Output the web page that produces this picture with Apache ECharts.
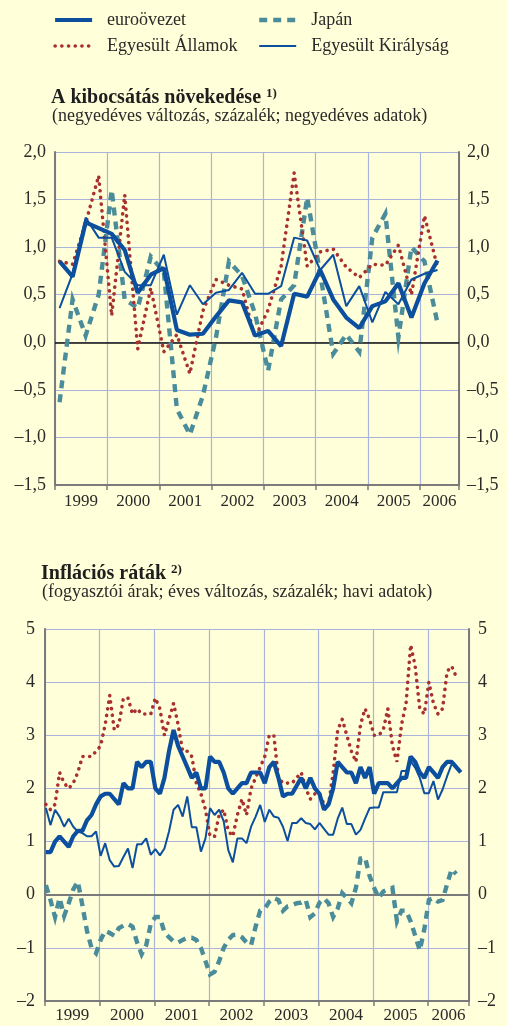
<!DOCTYPE html>
<html><head><meta charset="utf-8">
<script src="https://cdn.jsdelivr.net/npm/echarts@6/dist/echarts.min.js"></script>
<style>html,body{margin:0;padding:0;background:#FFFFD9;}#c{width:507px;height:1026px;}</style>
</head><body><div id="c"></div>
<script>
// ---- data ----
const years = ['1999','2000','2001','2002','2003','2004','2005','2006'];
const seriesNames = ['euroövezet','Egyesült Államok','Japán','Egyesült Királyság'];
const gdpTicks = [-1.5,-1.0,-0.5,0,0.5,1.0,1.5,2.0];
const cpiTicks = [-2,-1,0,1,2,3,4,5];
// quarterly, 1999 Q1 - 2006 Q2
const gdpEuro = [0.85,0.69,1.26,1.2,1.14,0.97,0.52,0.71,0.78,0.13,0.08,0.09,0.27,0.44,0.42,0.07,0.12,-0.04,0.51,0.48,0.76,0.45,0.26,0.15,0.38,0.43,0.62,0.26,0.62,0.86];
const gdpUS = [0.85,0.82,1.25,1.75,0.28,1.55,-0.07,0.57,-0.1,0.08,-0.33,0.33,0.66,0.6,0.56,0.05,0.34,0.8,1.78,0.8,0.95,0.98,0.79,0.68,0.82,0.81,1.02,0.5,1.33,0.79];
const gdpJapan = [-0.63,0.45,0.07,0.5,1.6,0.45,0.36,0.9,0.74,-0.7,-0.97,-0.56,0.05,0.85,0.7,0.3,-0.3,0.45,0.6,1.52,0.72,-0.12,0.08,-0.1,1.1,1.35,0.05,1.0,0.85,0.2];
const gdpUK = [0.36,0.72,1.31,1.1,1.1,0.74,0.6,0.6,0.92,0.29,0.6,0.4,0.52,0.55,0.73,0.51,0.51,0.59,1.1,1.07,0.76,0.92,0.38,0.59,0.21,0.53,0.4,0.66,0.72,0.76];
// monthly, from January 1999
const cpiEuro = [0.8,0.8,1.0,1.1,1.0,0.9,1.1,1.2,1.2,1.4,1.5,1.7,
 1.85,1.9,1.9,1.8,1.7,2.1,2.0,2.0,2.5,2.4,2.5,2.5,
 2.0,1.9,2.2,2.7,3.1,2.8,2.6,2.4,2.2,2.3,2.0,2.0,
 2.6,2.5,2.5,2.3,2.0,1.9,2.0,2.1,2.1,2.3,2.3,2.3,
 2.1,2.4,2.5,2.2,1.85,1.9,1.9,2.05,2.2,2.0,2.2,2.0,
 1.9,1.6,1.7,2.0,2.5,2.4,2.3,2.3,2.1,2.4,2.2,2.4,
 1.9,2.1,2.1,2.1,2.0,2.1,2.2,2.2,2.6,2.5,2.3,2.2,
 2.4,2.3,2.2,2.4,2.5,2.5,2.4,2.3];
const cpiUS = [1.7,1.6,1.7,2.3,2.1,2.0,2.1,2.3,2.6,2.6,2.6,2.7,
 2.8,3.2,3.75,3.1,3.2,3.7,3.7,3.4,3.5,3.4,3.4,3.4,
 3.7,3.5,3.0,3.3,3.6,3.2,2.7,2.7,2.6,2.1,1.9,1.6,
 1.1,1.1,1.5,1.6,1.2,1.1,1.5,1.8,1.5,2.0,2.2,2.4,
 2.6,3.0,3.0,2.2,2.1,2.1,2.1,2.2,2.3,2.0,1.8,1.9,
 1.9,1.7,1.7,2.3,3.1,3.3,3.0,2.7,2.5,3.2,3.5,3.3,
 3.0,3.0,3.1,3.5,2.8,2.5,3.2,3.6,4.7,4.3,3.5,3.4,
 4.0,3.6,3.4,3.5,4.2,4.3,4.1];
const cpiJapan = [0.18,-0.1,-0.42,-0.06,-0.4,-0.16,0.1,0.25,-0.2,-0.68,-1.0,-1.1,
 -0.85,-0.68,-0.72,-0.77,-0.63,-0.58,-0.55,-0.6,-0.9,-1.12,-0.95,-0.55,
 -0.42,-0.42,-0.71,-0.8,-0.88,-0.9,-0.85,-0.81,-0.81,-0.85,-1.0,-1.25,
 -1.5,-1.45,-1.25,-1.0,-0.85,-0.76,-0.75,-0.8,-0.9,-0.95,-0.6,-0.3,
 -0.26,-0.13,-0.06,-0.1,-0.3,-0.22,-0.2,-0.16,-0.15,-0.1,-0.42,-0.35,
 -0.15,-0.07,-0.16,-0.42,-0.26,0.03,-0.06,-0.16,0.13,0.68,0.7,0.35,
 0.13,-0.06,0.06,0.1,0.13,-0.5,-0.3,-0.3,-0.5,-0.77,-1.05,-0.65,
 -0.1,-0.06,-0.13,-0.1,0.2,0.48,0.39];
const cpiUK = [1.63,1.31,1.6,1.47,1.28,1.43,1.28,1.19,1.16,1.1,1.1,1.19,
 0.73,0.97,0.65,0.53,0.54,0.71,0.87,0.5,0.95,0.95,1.06,0.75,
 0.86,0.74,0.87,1.19,1.6,1.69,1.47,1.85,1.27,1.27,0.81,1.06,
 1.63,1.5,1.6,1.38,0.84,0.61,1.06,1.06,0.97,1.28,1.47,1.69,
 1.37,1.6,1.47,1.45,1.28,1.01,1.35,1.35,1.44,1.35,1.33,1.23,
 1.35,1.24,1.13,1.13,1.43,1.64,1.33,1.33,1.13,1.22,1.43,1.63,
 1.64,1.64,1.93,1.93,1.93,1.93,2.33,2.33,2.51,2.39,2.2,1.91,
 1.91,2.14,1.79,1.98,2.23,2.46];

// ---- styles ----
const FONT = 'Liberation Serif';
const TXT = '#2a2a2a';
const GRIDC = '#a9b3dc';
const AXC = '#7b7b7b';
const C_EURO = '#0b4f9e', C_US = '#a8302e', C_JP = '#4b8c9b', C_UK = '#0b4f9e';
const QOFF = 0.35, MOFF = 0.2;
const Q_MAX = 31, M_MAX = 93;

function fmtDec(v){ return (v < 0 ? '\u2013' : '') + Math.abs(v).toFixed(1).replace('.', ','); }
function fmtInt(v){ return (v < 0 ? '\u2013' : '') + Math.abs(v); }

const styles = {
  'euroövezet': {color: C_EURO, width: 4.2},
  'Egyesült Államok': {color: C_US, width: 3.6, type: [0.1, 6.6], cap: 'round'},
  'Japán': {color: C_JP, width: 4.4, type: [8, 6], join: 'miter'},
  'Egyesült Királyság': {color: C_UK, width: 2}
};
const drawOrder = ['Japán','Egyesült Államok','Egyesült Királyság','euroövezet'];

function mkSeries(name, data, off, xi, yi, zeroColor, zeroWidth){
  const s = {
    name, type: 'line', xAxisIndex: xi, yAxisIndex: yi, symbol: 'none', smooth: false,
    lineStyle: Object.assign({}, styles[name]), itemStyle: {color: styles[name].color},
    data: data.map((v, i) => [i + off, v]), silent: true, animation: false
  };
  if (name === 'euroövezet') {
    s.markLine = {silent: true, symbol: 'none', label: {show: false}, z: 1,
      lineStyle: {color: zeroColor, width: zeroWidth, type: 'solid'}, data: [{yAxis: 0}]};
  }
  return s;
}
const gdpMap = {'euroövezet': gdpEuro, 'Egyesült Államok': gdpUS, 'Japán': gdpJapan, 'Egyesült Királyság': gdpUK};
const cpiMap = {'euroövezet': cpiEuro, 'Egyesült Államok': cpiUS, 'Japán': cpiJapan, 'Egyesült Királyság': cpiUK};

const series = [];
drawOrder.forEach(n => series.push(mkSeries(n, gdpMap[n], QOFF, 0, 0, '#111', 1.5)));
drawOrder.forEach(n => series.push(mkSeries(n, cpiMap[n], MOFF, 1, 2, '#7a7a7a', 2.2)));

const lblStyle = {fontFamily: FONT, fontSize: 18, color: TXT};
const yearLabel = {fontFamily: FONT, fontSize: 17, color: TXT};

function yAx(grid, ticks, fmt, pos, margin){
  return {type: 'value', gridIndex: grid, position: pos,
    min: ticks[0], max: ticks[ticks.length - 1], interval: ticks[1] - ticks[0],
    axisLine: {show: true, lineStyle: {color: AXC, width: 2}},
    axisTick: {show: false},
    axisLabel: Object.assign({formatter: fmt, margin: margin}, lblStyle),
    splitLine: {show: pos === 'left', lineStyle: {color: GRIDC, width: 1.2}}};
}

const qLabelPos = years.map((y, k) => k < years.length - 1 ? 4 * k + 2 : (4 * k + Q_MAX) / 2);
const mLabelPos = years.map((y, k) => k < years.length - 1 ? 12 * k + 6 : (12 * k + M_MAX) / 2);

const supRich = {t: {fontFamily: FONT, fontWeight: 'bold', fontSize: 20, color: '#1e1e1e', lineHeight: 22},
                 s: {fontFamily: FONT, fontWeight: 'bold', fontSize: 13, color: '#1e1e1e', verticalAlign: 'top', lineHeight: 13, padding: [0, 0, 6, 0]}};
function legendItem(n){
  const st = styles[n];
  return {name: n, lineStyle: {width: st.width, color: st.color, type: st.type || 'solid', cap: st.cap || 'butt'}};
}
const legendBase = {top: 11, padding: 0, orient: 'vertical', itemWidth: 37, itemHeight: 14, itemGap: 8,
  selectedMode: false, itemStyle: {opacity: 0, color: 'rgba(0,0,0,0)', borderWidth: 0},
  textStyle: {fontFamily: FONT, fontSize: 18, color: TXT, lineHeight: 14, padding: [0, 0, 0, 10]}};

const option = {
  backgroundColor: '#FFFFD9',
  animation: false,
  title: [
    {left: 51, top: 87, padding: 0, text: '{t|A kibocsátás növekedése }{s|1)}', textStyle: {rich: supRich}},
    {left: 52, top: 107, padding: 0, text: '(negyedéves változás, százalék; negyedéves adatok)',
     textStyle: {fontFamily: FONT, fontWeight: 'normal', fontSize: 18, color: TXT}},
    {left: 41, top: 563, padding: 0, text: '{t|Inflációs ráták }{s|2)}', textStyle: {rich: supRich}},
    {left: 42, top: 583, padding: 0, text: '(fogyasztói árak; éves változás, százalék; havi adatok)',
     textStyle: {fontFamily: FONT, fontWeight: 'normal', fontSize: 18, color: TXT}}
  ],
  legend: [
    Object.assign({left: 53, data: [legendItem(seriesNames[0]), legendItem(seriesNames[1])]}, legendBase),
    Object.assign({left: 257, data: [legendItem(seriesNames[2]), legendItem(seriesNames[3])]}, legendBase)
  ],
  grid: [
    {left: 55, top: 152, width: 404, height: 333},
    {left: 45, top: 629, width: 424, height: 372}
  ],
  xAxis: [
    {type: 'value', gridIndex: 0, min: 0, max: Q_MAX, interval: 4,
     axisLine: {onZero: false, lineStyle: {color: AXC, width: 2}},
     axisTick: {show: true, length: 5, lineStyle: {color: AXC, width: 1.5}},
     splitLine: {show: true, lineStyle: {color: GRIDC, width: 1.2}},
     axisLabel: Object.assign({customValues: qLabelPos, margin: 8,
       formatter: v => years[Math.floor(v / 4)]}, yearLabel)},
    {type: 'value', gridIndex: 1, min: 0, max: M_MAX, interval: 12,
     axisLine: {onZero: false, lineStyle: {color: AXC, width: 2}},
     axisTick: {show: true, length: 5, lineStyle: {color: AXC, width: 1.5}},
     splitLine: {show: true, lineStyle: {color: GRIDC, width: 1.2}},
     axisLabel: Object.assign({customValues: mLabelPos, margin: 6,
       formatter: v => years[Math.floor(v / 12)]}, yearLabel)}
  ],
  yAxis: [
    yAx(0, gdpTicks, fmtDec, 'left', 9),
    yAx(0, gdpTicks, fmtDec, 'right', 8),
    yAx(1, cpiTicks, fmtInt, 'left', 10),
    yAx(1, cpiTicks, fmtInt, 'right', 9)
  ],
  series: series
};

const chart = echarts.init(document.getElementById('c'));
chart.setOption(option);
</script>
</body></html>
